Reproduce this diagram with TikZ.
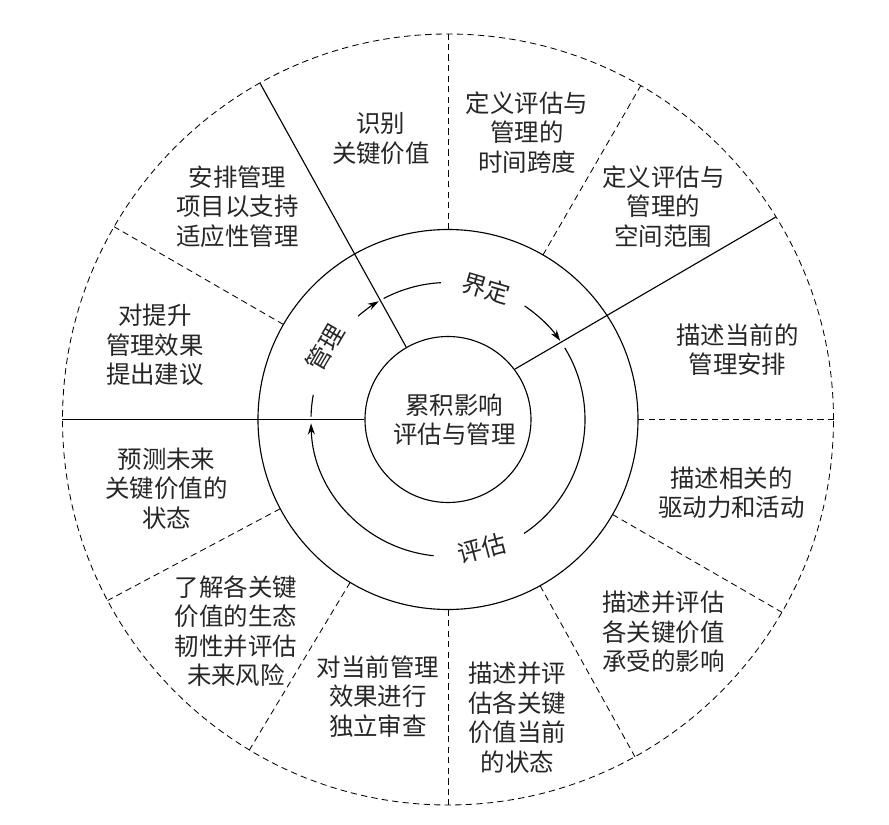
\documentclass[tikz,border=0pt]{standalone}
\usepackage{fontspec}
\setmainfont{Noto Sans CJK SC}
\usetikzlibrary{arrows.meta}

\newcommand{\outerR}{9.6375}
\newcommand{\midR}{4.75}
\newcommand{\flowR}{3.425}

\begin{document}
\begin{tikzpicture}[
  ring/.style={line width=0.8pt},
  spoke/.style={line width=0.8pt},
  divider/.style={line width=0.6pt, dash pattern=on 4.5pt off 3pt},
  flowline/.style={line width=0.8pt},
  flow/.style={flowline, -{Stealth[length=8pt,width=5pt]}},
  sector/.style={align=center, text=black!85, font=\fontsize{17.4}{21}\selectfont, inner sep=0pt},
  phase/.style={text=black!85, font=\fontsize{17.4}{21}\selectfont, inner sep=0pt}
]
\useasboundingbox (-11.2,-10.1125) rectangle (11.025,10.4875);
%\draw[help lines] (-11,-10) grid (11,10);

\draw[divider] (0,0) circle (\outerR);
\draw[ring] (0,0) circle (\midR);
\node[circle, draw, ring, minimum size=4.15cm, inner sep=0pt] (core) at (0,0) {};
\node[sector] (coretext) at (0.16,0) {累积影响\\评估与管理};

\draw[spoke] (core.180) -- (180:\outerR);
\draw[spoke] (core.120) -- (119.2:\outerR);
\draw[spoke] (core.37) -- (31.7:\outerR);

\foreach \a in {90,60,0,-30,-61,-90,-121,-152,150}
  \draw[divider] (\a:\midR) -- (\a:\outerR);

\draw[flowline] (118:\flowR) arc[start angle=118, end angle=93, radius=\flowR];
\draw[flow] (56:\flowR) arc[start angle=56, end angle=35, radius=\flowR];
\draw[flowline] (31.5:\flowR) arc[start angle=31.5, end angle=-56.3, radius=\flowR];
\draw[flow] (-96:\flowR) arc[start angle=-96, end angle=-178.4, radius=\flowR];
\draw[flowline] (178.8:\flowR) arc[start angle=178.8, end angle=169.6, radius=\flowR];
\draw[flow] (131:\flowR) arc[start angle=131, end angle=120.3, radius=\flowR];

\node[phase, rotate=-16.4] (define) at (73.6:3.42) {界定};
\node[phase, rotate=14.7] (assess) at (-75.3:3.33) {评估};
\node[phase, rotate=59.7] (manage) at (149.7:3.56) {管理};

\node[sector] (identify) at (-1.675,7.03) {识别\\关键价值};
\node[sector] (timespan) at (1.975,7.18) {定义评估与\\管理的\\时间跨度};
\node[sector] (extent) at (5.383,5.33) {定义评估与\\管理的\\空间范围};
\node[sector] (current) at (7.2375,1.75) {描述当前的\\管理安排};
\node[sector] (drivers) at (7.0875,-1.8325) {描述相关的\\驱动力和活动};
\node[sector] (impacts) at (5.383,-5.305) {描述并评估\\各关键价值\\承受的影响};
\node[sector] (status) at (1.7325,-7.45) {描述并评\\估各关键\\价值当前\\的状态};
\node[sector] (review) at (-1.75,-6.92) {对当前管理\\效果进行\\独立审查};
\node[sector] (resilience) at (-5.3,-5.295) {了解各关键\\价值的生态\\韧性并评估\\未来风险};
\node[sector] (forecast) at (-7.0375,-1.72) {预测未来\\关键价值的\\状态};
\node[sector] (advice) at (-7.325,1.8625) {对提升\\管理效果\\提出建议};
\node[sector] (programme) at (-5.2625,5.33) {安排管理\\项目以支持\\适应性管理};
\end{tikzpicture}
\end{document}
